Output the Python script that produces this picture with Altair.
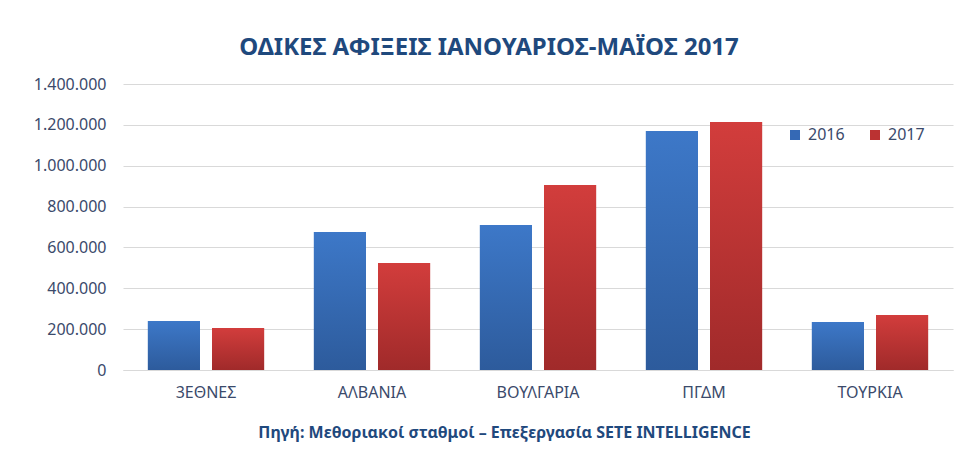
import altair as alt
import pandas as pd

categories = ["3ΕΘΝΕΣ", "ΑΛΒΑΝΙΑ", "ΒΟΥΛΓΑΡΙΑ", "ΠΓΔΜ", "ΤΟΥΡΚΙΑ"]
years = ["2016", "2017"]
values_2016 = [240000, 675000, 710000, 1170000, 235000]
values_2017 = [205000, 524000, 905000, 1214000, 269000]
y_ticks = [0, 200000, 400000, 600000, 800000, 1000000, 1200000, 1400000]

rows = []
for c, a, b in zip(categories, values_2016, values_2017):
    rows.append({"cat": c, "year": "2016", "value": a})
    rows.append({"cat": c, "year": "2017", "value": b})
df = pd.DataFrame(rows)

LABEL = "#3B4A6B"
TITLE = "#1F497D"
GRID = "#D9D9D9"
FONT = "Noto Sans"

x_enc = alt.X("cat:N", sort=categories,
              scale=alt.Scale(paddingInner=0.30, paddingOuter=0.15),
              axis=alt.Axis(title="Πηγή: Μεθοριακοί  σταθμοί – Επεξεργασία SETE INTELLIGENCE",
                            titleFont=FONT, titleFontSize=16, titleFontWeight="bold",
                            titleColor=TITLE, titleX=381, titleAlign="center",
                            titlePadding=24,
                            labelAngle=0, labelFont=FONT, labelFontSize=16, labelColor=LABEL,
                            labelPadding=14, ticks=False, domainColor=GRID, grid=False))
xoff = alt.XOffset("year:N", sort=years, scale=alt.Scale(paddingInner=0.1875, paddingOuter=0))
y_enc = alt.Y("value:Q", scale=alt.Scale(domain=[0, 1400000], nice=False),
              axis=alt.Axis(title=None, values=y_ticks,
                            labelExpr="replace(format(datum.value, ','), regexp(',', 'g'), '.')",
                            labelFont=FONT, labelFontSize=16, labelColor=LABEL,
                            labelPadding=17, ticks=False, domain=False,
                            gridColor=GRID, gridWidth=1))

base = alt.Chart(df).mark_bar().encode(
    x=x_enc, xOffset=xoff, y=y_enc,
    color=alt.Color("year:N", sort=years,
                    scale=alt.Scale(domain=years, range=["#3569B5", "#BB3232"]),
                    legend=alt.Legend(title=None, orient="none", legendX=664, legendY=43,
                                      direction="horizontal", symbolType="square",
                                      symbolSize=100, symbolStrokeWidth=0,
                                      labelFont=FONT, labelFontSize=16, labelColor=LABEL,
                                      labelOffset=5, columnPadding=22))
)

grad_blue = alt.Gradient(gradient="linear", x1=0, y1=0, x2=0, y2=1,
                         stops=[alt.GradientStop(color="#3D78C8", offset=0),
                                alt.GradientStop(color="#2D5B9C", offset=1)])
grad_red = alt.Gradient(gradient="linear", x1=0, y1=0, x2=0, y2=1,
                        stops=[alt.GradientStop(color="#D23D3C", offset=0),
                               alt.GradientStop(color="#A02A2A", offset=1)])

blue = alt.Chart(df).transform_filter(alt.datum.year == "2016").mark_bar(color=grad_blue).encode(
    x=x_enc, xOffset=xoff, y=y_enc)
red = alt.Chart(df).transform_filter(alt.datum.year == "2017").mark_bar(color=grad_red).encode(
    x=x_enc, xOffset=xoff, y=y_enc)

chart = alt.layer(base, blue, red).resolve_scale(xOffset="shared").properties(
    width=830, height=286,
    title=alt.TitleParams("ΟΔΙΚΕΣ ΑΦΙΞΕΙΣ ΙΑΝΟΥΑΡΙΟΣ-ΜΑΪΟΣ 2017", font=FONT, fontSize=24,
                          fontWeight="bold", color=TITLE, anchor="middle", dx=-49, offset=16),
    autosize=alt.AutoSizeParams(type="none"),
    padding={"left": 123, "top": 84, "right": 3, "bottom": 82},
    background="white",
).configure_view(stroke=None)

chart.save("out.html", embed_options={"renderer": "svg", "actions": False})
